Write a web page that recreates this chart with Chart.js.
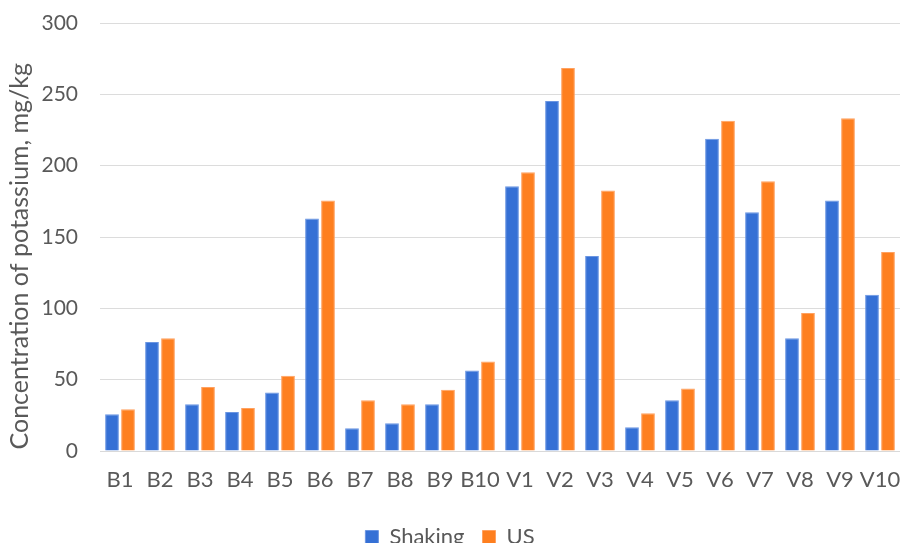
<!DOCTYPE html>
<html>
<head>
<meta charset="utf-8">
<script src="https://cdn.jsdelivr.net/npm/chart.js@4"></script>
<style>
  html, body { margin: 0; padding: 0; background: #fff; }
  #wrap { width: 900px; height: 543px; }
</style>
</head>
<body>
<div id="wrap"><canvas id="chart"></canvas></div>
<script>
// data
const labels = ['B1', 'B2', 'B3', 'B4', 'B5', 'B6', 'B7', 'B8', 'B9', 'B10',
                'V1', 'V2', 'V3', 'V4', 'V5', 'V6', 'V7', 'V8', 'V9', 'V10'];
const shaking = [25.8, 76.4, 32.8, 27.4, 41.0, 163.0, 16.0, 19.5, 32.8, 56.5,
                 185.5, 245.3, 136.7, 16.6, 35.6, 218.8, 167.4, 79.0, 175.6, 109.5];
const us = [29.3, 79.0, 44.8, 30.2, 52.8, 175.6, 35.6, 32.8, 42.9, 62.8,
            195.3, 268.5, 182.6, 26.5, 43.8, 231.4, 189.0, 96.8, 233.3, 139.5];
const yTicks = [0, 50, 100, 150, 200, 250, 300];

const fontFamily = 'Lato, "Open Sans", sans-serif';
const textColor = '#595959';

new Chart(document.getElementById('chart'), {
  type: 'bar',
  data: {
    labels: labels,
    datasets: [
      {
        label: 'Shaking',
        data: shaking,
        backgroundColor: '#3570d5',
        borderColor: '#6a95e2',
        borderWidth: 1,
        categoryPercentage: 0.8,
        barPercentage: 0.86
      },
      {
        label: 'US',
        data: us,
        backgroundColor: '#fe7f1f',
        borderColor: '#ffa160',
        borderWidth: 1,
        categoryPercentage: 0.8,
        barPercentage: 0.86
      }
    ]
  },
  options: {
    responsive: true,
    maintainAspectRatio: false,
    animation: false,
    layout: { padding: { top: 23, right: 0, left: 0, bottom: -15 } },
    plugins: {
      legend: {
        position: 'bottom',
        labels: {
          color: textColor,
          font: { family: fontFamily, size: 22 },
          boxWidth: 13,
          boxHeight: 13,
          padding: 18
        }
      },
      tooltip: { enabled: false }
    },
    scales: {
      x: {
        grid: { display: false },
        border: { color: '#d9d9d9' },
        ticks: {
          color: textColor,
          font: { family: fontFamily, size: 22 },
          maxRotation: 0,
          autoSkip: false,
          padding: 8
        },
        afterFit: function (scale) {
          scale.height = 57;
          // let the plot run to the right edge like the original
          scale.paddingLeft = 0;
          scale.paddingRight = 0;
        }
      },
      y: {
        min: 0,
        max: 300,
        afterBuildTicks: function (scale) {
          scale.ticks = yTicks.map(v => ({ value: v }));
        },
        grid: { color: '#dcdcdc', tickColor: 'rgba(0,0,0,0)', tickLength: 20 },
        border: { display: false },
        ticks: {
          color: textColor,
          font: { family: fontFamily, size: 21 },
          padding: 2
        },
        title: {
          display: true,
          // trailing spaces nudge the rotated title down a bit, like the original
          text: 'Concentration of potassium, mg/kg      ',
          color: textColor,
          font: { family: fontFamily, size: 25 },
          padding: { top: 5, bottom: 0 }
        },
        afterFit: function (scale) { scale.width = 100; }
      }
    }
  }
});
</script>
</body>
</html>
